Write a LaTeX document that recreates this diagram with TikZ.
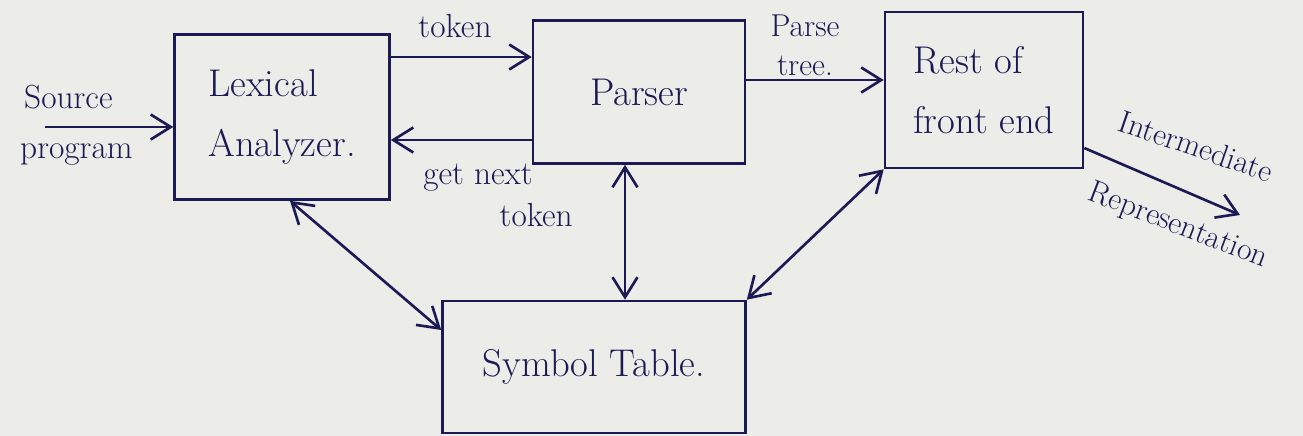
\documentclass[tikz,border=0pt]{standalone}
\usetikzlibrary{arrows.meta}
\begin{document}
\begin{tikzpicture}[x=0.02cm,y=-0.02cm]
  \definecolor{ink}{RGB}{28,26,84}
  \definecolor{paper}{RGB}{236,236,233}
  \newcommand{\bigtext}[0]{\fontsize{22}{34}\selectfont}
  \newcommand{\smalltext}[0]{\fontsize{19}{24}\selectfont}

  \tikzstyle{edge}  = [draw=ink,line width=1.5pt,-{Straight Barb[length=4mm,width=5mm]}]
  \tikzstyle{dedge} = [draw=ink,line width=1.5pt,{Straight Barb[length=4mm,width=5mm]}-{Straight Barb[length=4mm,width=5mm]}]
  \tikzstyle{block}=[
    rectangle,
    draw=ink,
    text=ink,
    line width=1.5pt,
    anchor=center,
    align=left,
    font=\bigtext,
  ]
  \tikzstyle{tag}=[
    text=ink,
    align=center,
    font=\smalltext,
  ]

  % paper
  \fill[paper] (0,0) rectangle (1303,436);
  \useasboundingbox (0,0) rectangle (1303,436);

  % lexical analyzer
  \node[block, minimum width=4.3cm, minimum height=3.3cm] (lex) at (282,117) {Lexical\\Analyzer.};

  % parser
  \node[block, minimum width=4.24cm, minimum height=2.86cm] (parser) at (639,92) {Parser};

  % rest of front end
  \node[block, minimum width=3.96cm, minimum height=3.12cm] (rest) at (984,90) {Rest of\\front end};

  % symbol table
  \node[block, minimum width=6.06cm, minimum height=2.64cm] (symtab) at (594,367) {Symbol Table.};

  % input
  \coordinate (src) at (45,127);
  \node[tag, anchor=south west] (src top) at (18,115) {Source};
  \node[tag, anchor=north west] (src bot) at (14,137) {program};
  \draw[edge] (src) -- (src -| lex.west);

  % lexer <-> parser
  \draw[edge] (lex.east |- 0,57) -- (parser.west |- 0,57);
  \draw[edge] (parser.west |- 0,140) -- (lex.east |- 0,140);
  \node[tag] (tok) at (455,26) {token};
  \node[tag, align=right] (getnext) at (478,195) {get next\\\hspace*{0pt}token\hspace*{-1.2em}};

  % parser -> rest
  \draw[edge] (parser.east |- 0,80) -- (rest.west |- 0,80);
  \node[tag, font=\fontsize{18}{22}\selectfont] (ptree) at (805,45) {Parse\\tree.};

  % output
  \coordinate (ir) at (1240,215);
  \draw[edge] (rest.east |- 0,148) -- (ir);
  \node[tag, rotate=-19, font=\fontsize{18}{22}\selectfont] (ir top) at (1196,146) {Intermediate};
  \node[tag, rotate=-21, font=\fontsize{18}{22}\selectfont] (ir bot) at (1178,226) {Representation};

  % symbol table access
  \draw[dedge] (lex.south -| 290,0) -- (symtab.west |- 0,330);
  \draw[dedge] (parser.south -| 625,0) -- (symtab.north -| 625,0);
  \draw[dedge] (rest.south west) -- (symtab.north east);
\end{tikzpicture}
\end{document}
